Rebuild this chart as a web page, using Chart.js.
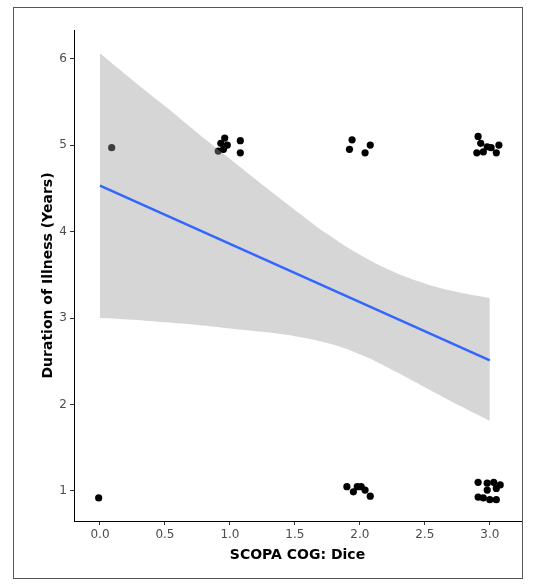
<!DOCTYPE html>
<html>
<head>
<meta charset="utf-8">
<script src="https://cdn.jsdelivr.net/npm/chart.js@4/dist/chart.umd.min.js"></script>
<style>
  body { margin: 0; background: #fff; }
  #wrap { width: 553px; height: 585px; }
</style>
</head>
<body>
<div id="wrap"><canvas id="chart" width="553" height="585"></canvas></div>
<script>
// jittered observations
const pointX = [-0.01, 0.09,
  0.96, 0.93, 0.91, 0.98, 0.95, 1.08, 1.08,
  1.94, 1.92, 2.08, 2.04,
  2.91, 2.93, 2.90, 2.98, 2.95, 3.07, 3.05, 3.01,
  1.90, 1.95, 1.98, 2.04, 2.08, 2.01,
  2.91, 2.98, 3.03, 3.08, 3.05, 2.98, 2.91, 2.95, 3.00, 3.05];
const pointY = [0.92, 4.97,
  5.08, 5.02, 4.93, 5.00, 4.95, 5.05, 4.91,
  5.06, 4.95, 5.00, 4.91,
  5.10, 5.02, 4.91, 4.98, 4.92, 5.00, 4.91, 4.97,
  1.05, 0.99, 1.05, 1.01, 0.94, 1.05,
  1.10, 1.09, 1.10, 1.07, 1.03, 1.01, 0.93, 0.92, 0.90, 0.90];

// linear fit and its confidence band
const fitX = [0, 3];
const fitY = [4.53, 2.51];
const bandX = [0, 0.25, 0.5, 0.75, 1.0, 1.25, 1.5, 1.75, 2.0, 2.25, 2.5, 2.75, 3.0];
const bandUpper = [6.06, 5.75, 5.45, 5.14, 4.84, 4.54, 4.25, 3.97, 3.73, 3.54, 3.40, 3.30, 3.23];
const bandLower = [3.00, 2.98, 2.95, 2.92, 2.88, 2.84, 2.79, 2.71, 2.58, 2.40, 2.20, 2.00, 1.81];

const xTicks = [0, 0.5, 1, 1.5, 2, 2.5, 3];
const yTicks = [1, 2, 3, 4, 5, 6];

const zip = (xs, ys) => xs.map((x, i) => ({ x: x, y: ys[i] }));

const frame = {
  id: 'frame',
  afterDraw(chart) {
    const ctx = chart.ctx;
    ctx.save();
    ctx.strokeStyle = '#555';
    ctx.lineWidth = 1;
    ctx.strokeRect(13.5, 7.5, 509, 571);
    ctx.restore();
  }
};

Chart.defaults.font.family = "'DejaVu Sans', sans-serif";

new Chart(document.getElementById('chart'), {
  type: 'scatter',
  data: {
    datasets: [
      {
        type: 'line',
        data: zip(fitX, fitY),
        borderColor: '#3366FF',
        borderWidth: 2.5,
        pointRadius: 0,
        fill: false,
        order: 0
      },
      {
        type: 'line',
        data: zip(bandX, bandUpper),
        borderWidth: 0,
        pointRadius: 0,
        tension: 0.4,
        backgroundColor: 'rgba(153,153,153,0.4)',
        fill: '+1',
        order: 1
      },
      {
        type: 'line',
        data: zip(bandX, bandLower),
        borderWidth: 0,
        pointRadius: 0,
        tension: 0.4,
        fill: false,
        order: 2
      },
      {
        data: zip(pointX, pointY),
        backgroundColor: '#000',
        borderWidth: 0,
        pointRadius: 3.6,
        order: 3
      }
    ]
  },
  options: {
    responsive: false,
    animation: false,
    layout: { padding: { left: 0, top: 30, right: 32, bottom: 0 } },
    plugins: { legend: { display: false }, tooltip: { enabled: false } },
    scales: {
      x: {
        type: 'linear',
        min: -0.2,
        max: 3.24,
        afterBuildTicks: s => { s.ticks = xTicks.map(v => ({ value: v })); },
        afterFit: s => { s.height = 64; },
        grid: { drawOnChartArea: false, drawTicks: true, tickLength: 4, color: '#333' },
        border: { display: true, color: '#000', width: 1 },
        ticks: { color: '#4D4D4D', font: { size: 12 }, padding: 3, callback: v => v.toFixed(1) },
        title: {
          display: true, text: 'SCOPA COG: Dice', color: '#000',
          font: { size: 14, weight: 'bold' }, padding: { top: 0, bottom: 21 }
        }
      },
      y: {
        type: 'linear',
        min: 0.653,
        max: 6.33,
        afterBuildTicks: s => { s.ticks = yTicks.map(v => ({ value: v })); },
        afterFit: s => { s.width = 74; },
        grid: { drawOnChartArea: false, drawTicks: true, tickLength: 4, color: '#333' },
        border: { display: true, color: '#000', width: 1 },
        ticks: { color: '#4D4D4D', font: { size: 12 }, padding: 3, callback: v => String(v) },
        title: {
          display: true, text: 'Duration of Illness (Years)', color: '#000',
          font: { size: 14, weight: 'bold' }, padding: { top: 40, bottom: 0 }
        }
      }
    }
  },
  plugins: [frame]
});
</script>
</body>
</html>
